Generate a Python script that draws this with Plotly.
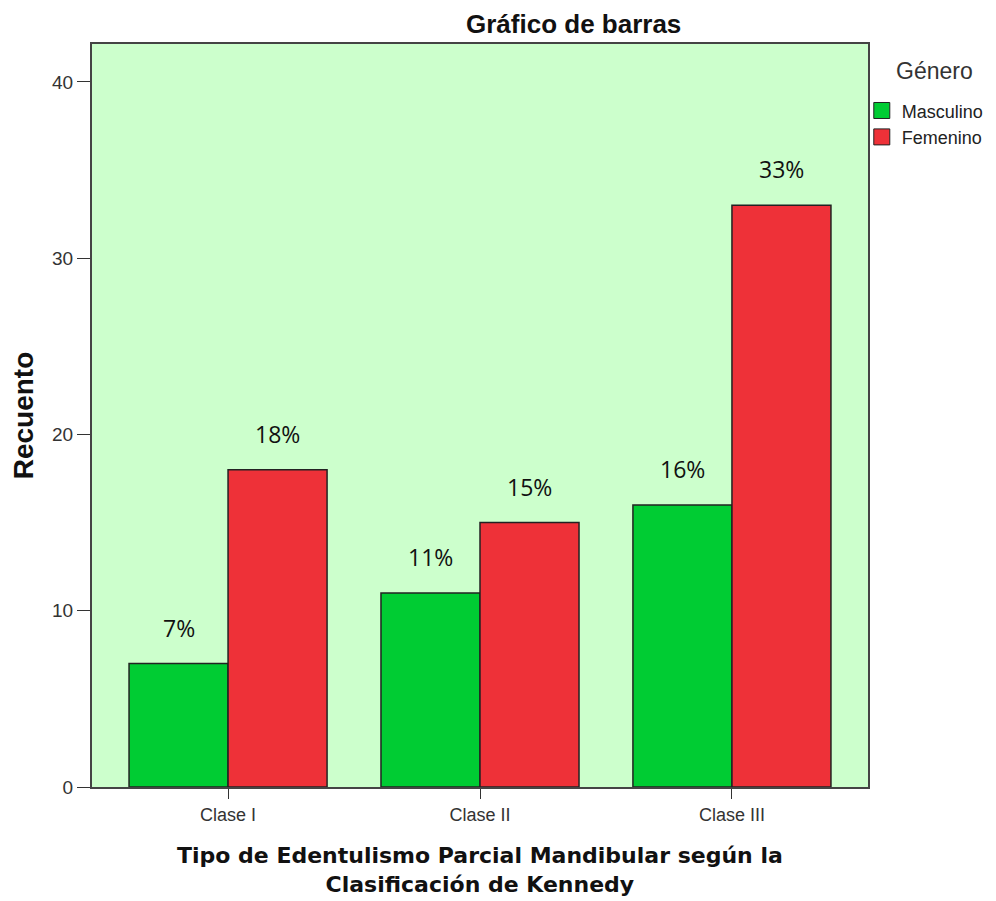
import plotly.graph_objects as go

categories = ["Clase I", "Clase II", "Clase III"]
masculino = [7, 11, 16]
femenino = [18, 15, 33]
masc_labels = ["7%", "11%", "16%"]
fem_labels = ["18%", "15%", "33%"]
series_names = ["Masculino", "Femenino"]
x_title_lines = ["Tipo de Edentulismo Parcial Mandibular según la", "Clasificación de Kennedy"]

GREEN = "#00CC33"
RED = "#EE3138"
FONT = "Liberation Sans, Arial, sans-serif"
EDGE = "#222222"

fig = go.Figure()
fig.add_trace(go.Bar(name=series_names[0], x=categories, y=masculino, showlegend=False,
                     marker=dict(color=GREEN, line=dict(color=EDGE, width=1.5))))
fig.add_trace(go.Bar(name=series_names[1], x=categories, y=femenino, showlegend=False,
                     marker=dict(color=RED, line=dict(color=EDGE, width=1.5))))

# legend entries with large square swatches
for name, col in zip(series_names, [GREEN, RED]):
    fig.add_trace(go.Scatter(x=[None], y=[None], mode="markers", name=name,
                             marker=dict(symbol="square", size=16, color=col,
                                         line=dict(color=EDGE, width=1))))

for cat, v, t in zip(categories, masculino, masc_labels):
    fig.add_annotation(x=cat, y=v, text=t, showarrow=False, xshift=-49.5, yshift=36,
                       font=dict(family="Open Sans, sans-serif", size=23, color="#111111"))
for cat, v, t in zip(categories, femenino, fem_labels):
    fig.add_annotation(x=cat, y=v, text=t, showarrow=False, xshift=49.5, yshift=36,
                       font=dict(family="Open Sans, sans-serif", size=23, color="#111111"))

fig.add_annotation(text="<b>Gráfico de barras</b>", xref="paper", yref="paper",
                   x=0.621, y=1.0, yanchor="middle", yshift=20, showarrow=False,
                   font=dict(family=FONT, size=26, color="#111111"))
fig.add_annotation(text="Género", xref="paper", yref="paper",
                   x=1.033, xanchor="left", y=0.963, yanchor="middle", showarrow=False,
                   font=dict(family=FONT, size=23, color="#333333"))
fig.add_annotation(text="<b>" + "<br>".join(x_title_lines) + "</b>", xref="paper", yref="paper",
                   x=0.5, y=0, yanchor="middle", yshift=-83, showarrow=False,
                   font=dict(family="DejaVu Sans, sans-serif", size=22, color="#111111"))

fig.update_layout(
    width=1010, height=901,
    margin=dict(l=84, r=150, t=36, b=122),
    paper_bgcolor="white", plot_bgcolor="#CCFFCC",
    barmode="group", bargap=0.214, bargroupgap=0,
    font=dict(family=FONT, color="#222222"),
    legend=dict(x=0.992, xanchor="left", y=0.935, yanchor="top",
                font=dict(size=18, color="#222222"), tracegroupgap=0,
                itemwidth=30, bgcolor="rgba(0,0,0,0)"),
    showlegend=True,
)
fig.update_xaxes(range=[-0.54, 2.54], showline=True, mirror=True, linecolor="#444444",
                 linewidth=2, ticks="outside", ticklen=10, tickcolor="#333333",
                 tickfont=dict(size=18, color="#333333"), automargin=False,
                 showgrid=False)
fig.update_yaxes(range=[0, 42.15], showline=True, mirror=True, linecolor="#444444",
                 linewidth=2, ticks="outside", ticklen=13, tickcolor="#333333",
                 tickvals=[0, 10, 20, 30, 40], tickfont=dict(size=19, color="#333333"),
                 title=dict(text="<b>Recuento</b>", font=dict(size=28, color="#111111"), standoff=16),
                 showgrid=False, zeroline=False, automargin=False)

fig.write_html("out.html")
